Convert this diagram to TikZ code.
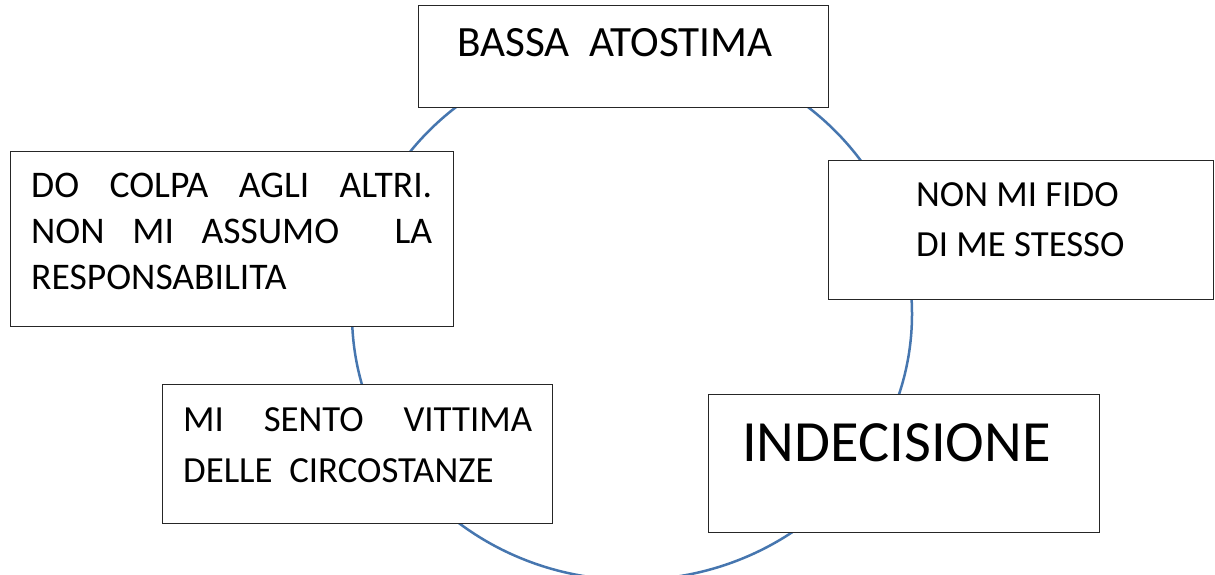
\documentclass[tikz,border=0pt]{standalone}
\usepackage{fontspec}
\setmainfont{Carlito}
\definecolor{ring}{RGB}{70,118,175}
\begin{document}
\begin{tikzpicture}[x=1pt,y=-1pt,
  box/.style={draw=black!85, line width=1.3pt, fill=white, rectangle, inner sep=0pt, anchor=north west},
  txt/.style={inner sep=0pt, anchor=base west},
  ftop/.style={font=\fontsize{43.2}{50}\selectfont},
  fleft/.style={font=\fontsize{37.6}{44}\selectfont},
  fmid/.style={font=\fontsize{36.8}{44}\selectfont},
  fbig/.style={font=\fontsize{58.4}{68}\selectfont}
]
\useasboundingbox (0,0) rectangle (1215,575);
\coordinate (c) at (632,314);
\draw[ring, line width=2.5pt] (c) ellipse [x radius=280pt, y radius=266pt];
% boxes
\node[box, minimum width=410pt, minimum height=102pt] (b1) at (418,5) {};
\node[box, minimum width=443pt, minimum height=175pt] (b2) at (10,151) {};
\node[box, minimum width=385pt, minimum height=139pt] (b3) at (828,160) {};
\node[box, minimum width=390pt, minimum height=139pt] (b4) at (162,384) {};
\node[box, minimum width=391pt, minimum height=138pt] (b5) at (708,394) {};
% texts
\node[txt, ftop] (t1) at (457,57) {BASSA\ \ ATOSTIMA};
\node[txt, fleft] (t2a) at (31,197) {\makebox[401pt][s]{DO\hfill COLPA\hfill AGLI\hfill ALTRI.}};
\node[txt, fleft] (t2b) at (31,243) {\makebox[401pt][s]{NON\hfill MI\hfill ASSUMO\hfill\hfill LA}};
\node[txt, fleft] (t2c) at (31,289) {RESPONSABILITA};
\node[txt, fmid] (t3a) at (916,206) {NON MI FIDO};
\node[txt, fmid] (t3b) at (916,256) {DI ME STESSO};
\node[txt, fmid] (t4a) at (183,431) {\makebox[349pt][s]{MI\hfill SENTO\hfill VITTIMA}};
\node[txt, fmid] (t4b) at (183,482) {DELLE\ \ CIRCOSTANZE};
\node[txt, fbig] (t5) at (742,461) {INDECISIONE};
\end{tikzpicture}
\end{document}
